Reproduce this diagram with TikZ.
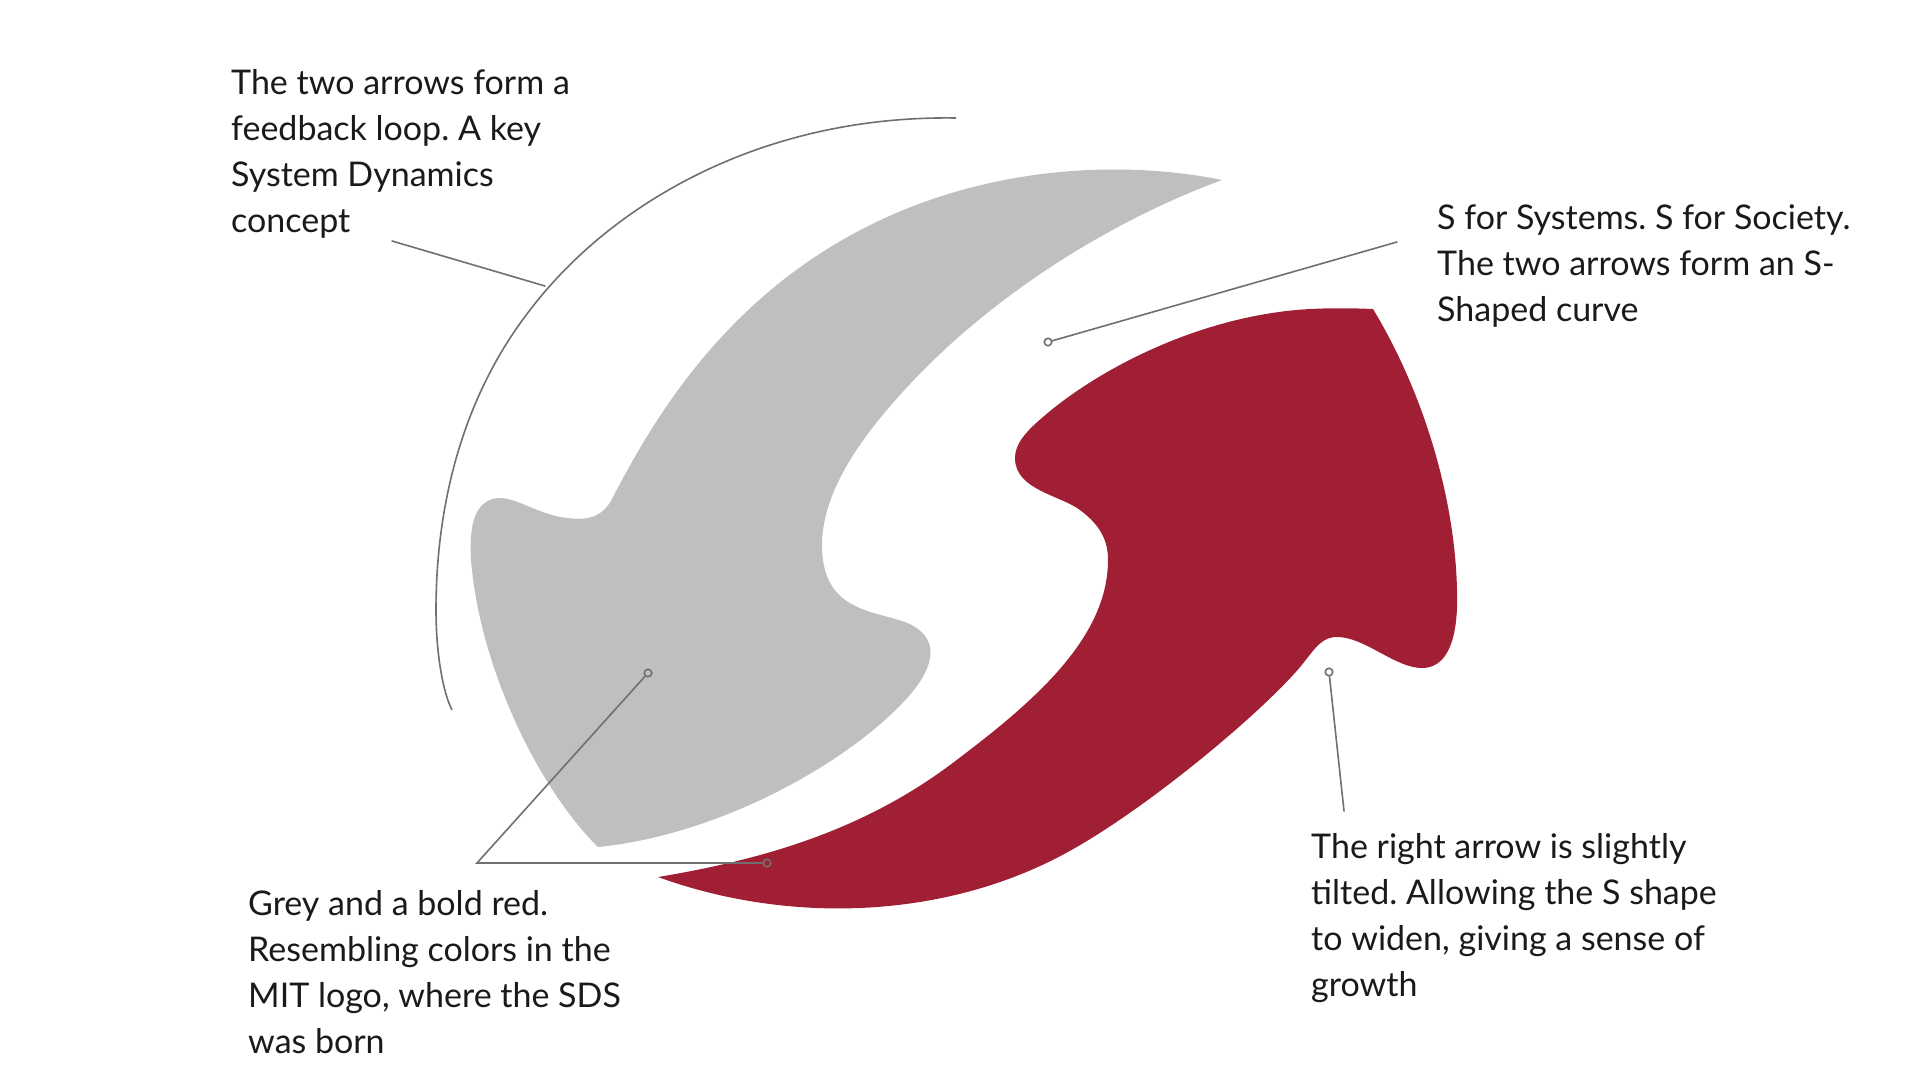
\documentclass[tikz,border=0pt]{standalone}
\usepackage{fontspec}
\setmainfont{Lato}
\definecolor{sdsred}{HTML}{A11F34}
\definecolor{sdsgrey}{HTML}{C0BFBE}
\definecolor{leader}{HTML}{707070}
\definecolor{ink}{HTML}{1A1A1A}
\newcommand{\lead}{\rule{0pt}{30pt}}
\tikzset{
  x=1pt,y=-1pt,
  note/.style={anchor=north west,inner sep=0pt,align=left,text=ink,font=\fontsize{34}{46}\selectfont\frenchspacing},
  leaderline/.style={draw=leader,line width=1.6pt,line cap=round},
  dot/.style={circle,draw=leader,line width=1.6pt,inner sep=0pt,minimum size=7.5pt},
}
\begin{document}
\begin{tikzpicture}
\useasboundingbox (0,0) rectangle (1920,1080);
\fill[white] (0,0) rectangle (1920,1080);
% grey arrow
\fill[sdsgrey] (1222,180) .. controls (1100,155) and (895,165) .. (740,318)
  .. controls (690,367) and (650,425) .. (612,499)
  .. controls (600,522) and (580,520) .. (560,517)
  .. controls (535,512) and (515,497) .. (497,498)
  .. controls (470,502) and (470,535) .. (471,560)
  .. controls (480,670) and (540,790) .. (598,847)
  .. controls (720,835) and (850,762) .. (908,697)
  .. controls (939,662) and (938,635) .. (905,622)
  .. controls (870,610) and (822,610) .. (822,545)
  .. controls (822,500) and (850,450) .. (900,395)
  .. controls (980,305) and (1100,225) .. (1222,180) -- cycle;
% red arrow
\fill[sdsred] (1373,309) .. controls (1350,308) and (1330,308) .. (1310,309)
  .. controls (1200,315) and (1097,370) .. (1043,417)
  .. controls (1024,433) and (1015,445) .. (1015,458)
  .. controls (1015,490) and (1060,495) .. (1080,510)
  .. controls (1100,525) and (1108,540) .. (1108,560)
  .. controls (1108,640) and (1030,705) .. (950,765)
  .. controls (860,832) and (760,860) .. (658,877)
  .. controls (790,925) and (950,920) .. (1075,848)
  .. controls (1150,805) and (1250,722) .. (1293,675)
  .. controls (1312,655) and (1318,637) .. (1337,637)
  .. controls (1365,637) and (1395,668) .. (1422,668)
  .. controls (1455,668) and (1458,620) .. (1457,590)
  .. controls (1455,500) and (1425,395) .. (1373,309) -- cycle;
% feedback arc
\draw[draw=leader,line width=1.6pt] (956,118) .. controls (760,115) and (610,205) .. (530,310)
  .. controls (460,400) and (436,510) .. (436,610)
  .. controls (436,650) and (442,690) .. (452,710);
% labels
\node[note] (n1) at (231,64) {\lead The two arrows form a\\\lead feedback loop. A key\\\lead System Dynamics\\\lead concept};
\node[note] (n2) at (1437,199.5) {\lead S for Systems. S for Society.\\\lead The two arrows form an S-\\\lead Shaped curve};
\node[note] (n3) at (248,885) {\lead Grey and a bold red.\\\lead Resembling colors in the\\\lead MIT logo, where the SDS\\\lead was born};
\node[note] (n4) at (1311,828.5) {\lead The right arrow is slightly\\\lead tilted. Allowing the S shape\\\lead to widen, giving a sense of\\\lead growth};
% leaders
\coordinate (a1) at (392,241);
\coordinate (a2) at (545,286);
\draw[leaderline] (a1) -- (a2);
\coordinate (b1) at (1397,242);
\node[dot] (b2) at (1048,342) {};
\draw[leaderline] (b1) -- (b2);
\coordinate (c1) at (1344,811);
\node[dot] (c2) at (1329,672) {};
\draw[leaderline] (c1) -- (c2);
\node[dot] (d1) at (648,673) {};
\coordinate (d2) at (477,863);
\node[dot] (d3) at (767,863) {};
\draw[leaderline,line join=miter] (d1) -- (d2) -- (d3);
\end{tikzpicture}
\end{document}
